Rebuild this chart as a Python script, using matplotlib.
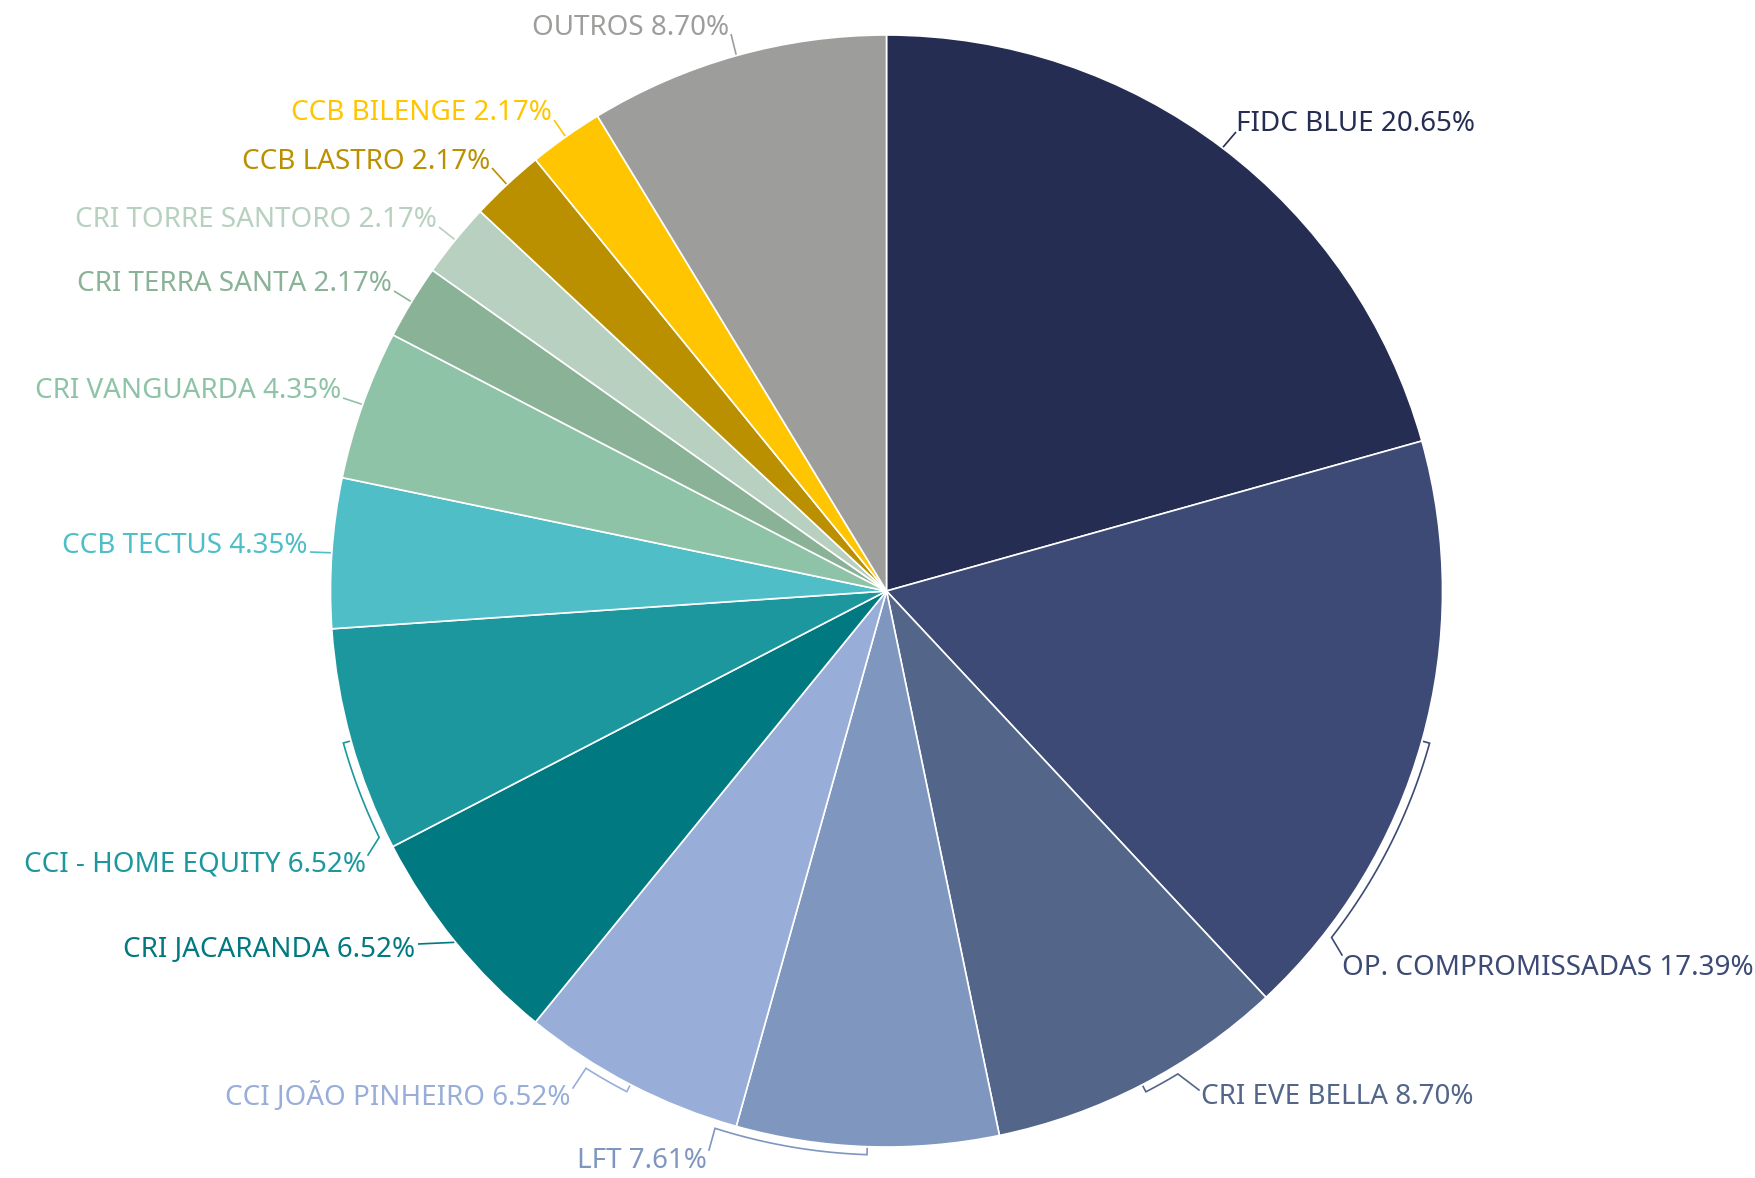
"""
Gráfico de pizza da composição da carteira (alocação por ativo).
"""

import numpy as np
import matplotlib
matplotlib.use("Agg")
import matplotlib.pyplot as plt

# Dados da carteira (%), ordem horária a partir do topo
ATIVOS = [
    "FIDC BLUE", "OP. COMPROMISSADAS", "CRI EVE BELLA", "LFT",
    "CCI JOÃO PINHEIRO", "CRI JACARANDA", "CCI - HOME EQUITY", "CCB TECTUS",
    "CRI VANGUARDA", "CRI TERRA SANTA", "CRI TORRE SANTORO", "CCB LASTRO",
    "CCB BILENGE", "OUTROS",
]
PESOS = [20.65, 17.39, 8.70, 7.61, 6.52, 6.52, 6.52, 4.35, 4.35, 2.17, 2.17, 2.17, 2.17, 8.70]
CORES = [
    "#262d52", "#3c4a75", "#53668a", "#7f96bf", "#98aed9", "#007a80", "#1c979e",
    "#4fbec7", "#8fc3a8", "#8ab297", "#b7d0c0", "#bb9000", "#ffc500", "#9d9d9b",
]

# Layout em pixels da figura (y para baixo)
W, H = 1755, 1178
CX, CY, R = 886.5, 591.0, 556.0

# posição do rótulo: (x, y do centro, alinhamento, ponto final do conector, ângulo de ligação)
ROTULOS = {
    "FIDC BLUE": (1236, 124, "left", (1236, 132), None),
    "OP. COMPROMISSADAS": (1342, 968, "left", (1342, 955), 127.9),
    "CRI EVE BELLA": (1201, 1097, "left", (1199, 1090), 148.9),
    "LFT": (707, 1161, "right", (709, 1150), 197.7),
    "CCI JOÃO PINHEIRO": (571, 1097, "right", (573, 1088), 212.2),
    "CRI JACARANDA": (415, 950, "right", (418, 944), None),
    "CCI - HOME EQUITY": (366, 865, "right", (368, 855), 244.1),
    "CCB TECTUS": (308, 546, "right", (310, 552), None),
    "CRI VANGUARDA": (341, 391, "right", (343, 398), None),
    "CRI TERRA SANTA": (392, 284, "right", (394, 291), None),
    "CRI TORRE SANTORO": (437, 220, "right", (439, 227), None),
    "CCB LASTRO": (490, 162, "right", (492, 168), None),
    "CCB BILENGE": (552, 113, "right", (554, 120), None),
    "OUTROS": (729, 28, "right", (731, 34), None),
}


def ponto(ang_graus, raio):
    """Ponto em pixels para um ângulo medido no sentido horário a partir do topo."""
    t = np.radians(ang_graus)
    return CX + raio * np.sin(t), CY - raio * np.cos(t)


fig = plt.figure(figsize=(W / 100, H / 100), dpi=100)
ax = fig.add_axes([0, 0, 1, 1])

# y invertido: startangle=-90 aponta para cima e counterclock=True gira no sentido horário
ax.pie(
    PESOS, colors=CORES, center=(CX, CY), radius=R, startangle=-90, counterclock=True,
    wedgeprops=dict(edgecolor="white", linewidth=1.2), frame=True,
)
ax.set_xlim(0, W)
ax.set_ylim(H, 0)
ax.set_aspect("equal")
ax.axis("off")

acum = np.cumsum([0] + PESOS[:-1])
total = sum(PESOS)
for nome, peso, ini, cor in zip(ATIVOS, PESOS, acum, CORES):
    x, y, ha, fim, ang_lig = ROTULOS[nome]
    meio = (ini + peso / 2) / total * 360
    if ang_lig is None:
        px, py = ponto(meio, R + 1)
        ax.plot([px, fim[0]], [py, fim[1]], color=cor, lw=1.2, solid_capstyle="butt")
    else:
        ra = R + 8
        a = np.linspace(meio, ang_lig, 40)
        arc = np.array([ponto(v, ra) for v in a])
        t0 = ponto(meio, R + 2)
        xs = [t0[0]] + list(arc[:, 0]) + [fim[0]]
        ys = [t0[1]] + list(arc[:, 1]) + [fim[1]]
        ax.plot(xs, ys, color=cor, lw=1.2, solid_joinstyle="miter")
    ax.text(x, y, f"{nome} {peso:.2f}%", color=cor, ha=ha, va="center",
            fontsize=20, family=["Noto Sans", "DejaVu Sans"])

fig.savefig("out.png", dpi=100)
